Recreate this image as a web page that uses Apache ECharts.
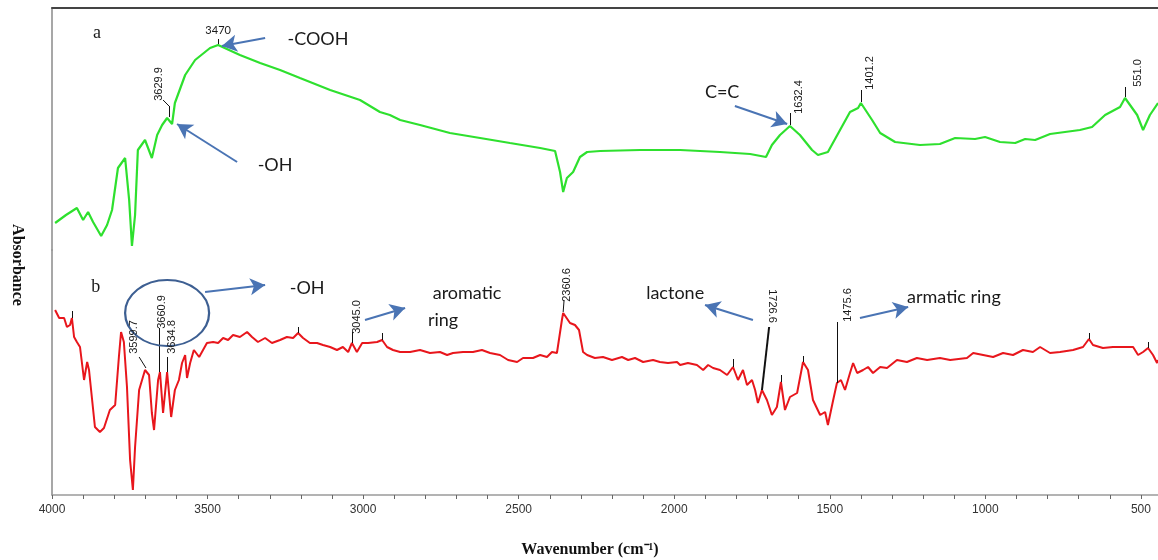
<!DOCTYPE html>
<html>
<head>
<meta charset="utf-8">
<script src="https://cdn.jsdelivr.net/npm/echarts@6/dist/echarts.min.js"></script>
<style>
  html, body { margin: 0; padding: 0; background: #fff; }
  #chart { width: 1158px; height: 560px; }
</style>
</head>
<body>
<div id="chart"></div>
<script>
// x tick labels (wavenumber, cm-1)
const tickLabels = [4000, 3500, 3000, 2500, 2000, 1500, 1000, 500]

// spectrum a (green) : [wavenumber, absorbance]
const spectrumA = [
  [3990, 0.27], [3955, 0.35], [3920, 0.42], [3900, 0.30], [3884, 0.38], [3868, 0.28],
  [3842, 0.14], [3823, 0.25], [3807, 0.40], [3788, 0.82], [3765, 0.92], [3752, 0.50],
  [3743, 0.04], [3733, 0.35], [3724, 1.00], [3701, 1.10], [3679, 0.92], [3662, 1.15],
  [3646, 1.25], [3630, 1.32], [3614, 1.26], [3605, 1.47], [3572, 1.75], [3540, 1.90],
  [3492, 2.02], [3466, 2.05], [3396, 1.95], [3331, 1.87], [3267, 1.80], [3203, 1.72],
  [3106, 1.60], [3010, 1.50], [2946, 1.38], [2914, 1.35], [2881, 1.30], [2817, 1.25],
  [2721, 1.17], [2624, 1.12], [2528, 1.07], [2431, 1.02], [2383, 0.99], [2367, 0.78],
  [2357, 0.58], [2345, 0.72], [2325, 0.78], [2303, 0.93], [2280, 0.98], [2238, 0.99],
  [2110, 1.00], [1981, 1.00], [1853, 0.98], [1756, 0.96], [1705, 0.93], [1686, 1.05],
  [1660, 1.15], [1628, 1.24], [1596, 1.15], [1557, 1.00], [1538, 0.95], [1506, 0.98],
  [1467, 1.20], [1435, 1.38], [1409, 1.42], [1400, 1.47], [1364, 1.30], [1338, 1.17],
  [1290, 1.08], [1210, 1.05], [1146, 1.06], [1097, 1.12], [1033, 1.11], [1001, 1.13],
  [953, 1.08], [904, 1.07], [872, 1.11], [840, 1.10], [792, 1.16], [696, 1.20],
  [657, 1.23], [615, 1.35], [567, 1.43], [551, 1.52], [512, 1.35], [493, 1.20],
  [471, 1.35], [445, 1.47]
]

// spectrum b (red) : [wavenumber, absorbance]
const spectrumB = [
  [3990, 1.85], [3977, 1.77], [3961, 1.77], [3952, 1.68], [3942, 1.70], [3936, 1.77],
  [3929, 1.58], [3920, 1.53], [3910, 1.48], [3897, 1.15], [3887, 1.33], [3881, 1.25],
  [3871, 0.95], [3862, 0.68], [3846, 0.63], [3833, 0.67], [3814, 0.85], [3797, 0.90],
  [3785, 1.38], [3778, 1.63], [3769, 1.53], [3759, 1.08], [3749, 0.35], [3740, 0.05],
  [3733, 0.48], [3720, 1.05], [3701, 1.25], [3688, 1.20], [3679, 0.82], [3672, 0.65],
  [3659, 1.15], [3653, 1.23], [3643, 0.82], [3630, 1.23], [3617, 0.78], [3605, 1.05],
  [3592, 1.15], [3582, 1.32], [3572, 1.40], [3566, 1.17], [3556, 1.32], [3544, 1.45],
  [3527, 1.38], [3502, 1.52], [3482, 1.53], [3466, 1.52], [3450, 1.57], [3434, 1.55],
  [3418, 1.60], [3396, 1.58], [3373, 1.63], [3357, 1.58], [3338, 1.53], [3315, 1.57],
  [3293, 1.52], [3267, 1.55], [3245, 1.58], [3225, 1.57], [3209, 1.62], [3193, 1.57],
  [3171, 1.52], [3148, 1.52], [3129, 1.50], [3106, 1.48], [3084, 1.45], [3065, 1.48],
  [3048, 1.43], [3036, 1.52], [3020, 1.43], [3003, 1.52], [2984, 1.52], [2955, 1.53],
  [2939, 1.55], [2923, 1.48], [2904, 1.45], [2881, 1.43], [2849, 1.43], [2817, 1.45],
  [2785, 1.42], [2753, 1.43], [2730, 1.40], [2711, 1.42], [2679, 1.43], [2647, 1.43],
  [2618, 1.45], [2592, 1.42], [2560, 1.40], [2534, 1.35], [2505, 1.33], [2486, 1.37],
  [2454, 1.37], [2431, 1.40], [2409, 1.38], [2393, 1.43], [2377, 1.42], [2361, 1.75],
  [2357, 1.82], [2335, 1.72], [2319, 1.70], [2306, 1.65], [2293, 1.43], [2280, 1.40],
  [2255, 1.37], [2229, 1.38], [2200, 1.35], [2168, 1.38], [2148, 1.35], [2126, 1.37],
  [2100, 1.33], [2068, 1.35], [2046, 1.33], [2020, 1.32], [1991, 1.33], [1981, 1.30],
  [1956, 1.32], [1927, 1.30], [1907, 1.25], [1891, 1.30], [1875, 1.27], [1853, 1.25],
  [1830, 1.20], [1811, 1.28], [1795, 1.15], [1779, 1.25], [1766, 1.10], [1750, 1.15],
  [1740, 1.05], [1731, 0.92], [1718, 1.05], [1702, 0.95], [1686, 0.80], [1670, 0.88],
  [1657, 1.13], [1644, 0.85], [1628, 0.98], [1605, 1.02], [1586, 1.33], [1570, 1.25],
  [1554, 0.95], [1531, 0.80], [1515, 0.83], [1506, 0.70], [1489, 0.95], [1477, 1.12],
  [1464, 1.15], [1451, 1.05], [1435, 1.22], [1425, 1.32], [1412, 1.22], [1393, 1.25],
  [1377, 1.28], [1361, 1.22], [1338, 1.28], [1316, 1.27], [1284, 1.35], [1252, 1.33],
  [1220, 1.37], [1187, 1.35], [1146, 1.37], [1113, 1.35], [1059, 1.37], [1039, 1.42],
  [1007, 1.40], [975, 1.38], [943, 1.42], [911, 1.40], [879, 1.45], [847, 1.43],
  [824, 1.48], [792, 1.42], [760, 1.43], [718, 1.45], [686, 1.48], [667, 1.56],
  [654, 1.50], [622, 1.47], [590, 1.48], [557, 1.48], [525, 1.48], [509, 1.40],
  [493, 1.43], [477, 1.47], [461, 1.40], [448, 1.32], [445, 1.35]
]

const minorTicks = []
for (let v = 500; v <= 4000; v += 100) minorTicks.push(v)

const ARROW = '#4a74b4'
const sansFont = 'Lato, "Liberation Sans", sans-serif'
const narrowFont = '"Liberation Sans Narrow", "Liberation Sans", sans-serif'

// helpers for annotations, all in data coordinates
function arrow (from, to) {
  const ls = { color: ARROW, width: 2, type: 'solid' }
  return [
    { coord: from, symbol: 'none', lineStyle: ls },
    { coord: to, symbol: 'arrow', symbolSize: [13, 15], lineStyle: ls }
  ]
}
function leader (from, to, w) {
  const ls = { color: '#111', width: w || 1, type: 'solid' }
  return [
    { coord: from, symbol: 'none', lineStyle: ls },
    { coord: to, symbol: 'none', lineStyle: ls }
  ]
}
function note (coord, text, size, extra) {
  return {
    coord: coord,
    symbol: 'circle',
    symbolSize: 1,
    itemStyle: { color: 'rgba(0,0,0,0)' },
    label: Object.assign({
      show: true,
      position: 'inside',
      formatter: text,
      color: '#1a1a1a',
      fontFamily: sansFont,
      fontSize: size
    }, extra || {})
  }
}
function peak (coord, text, rot) {
  return note(coord, text, 11, { fontFamily: narrowFont, rotate: rot === undefined ? 90 : rot })
}
function panel (coord, text) {
  return note(coord, text, 18, { fontFamily: '"Liberation Serif", serif' })
}

const option = {
  animation: false,
  grid: [
    { left: 52, right: 0, top: 8, height: 242, outerBoundsMode: 'none' },
    { left: 52, right: 0, top: 250, height: 245, outerBoundsMode: 'none' }
  ],
  xAxis: [
    {
      gridIndex: 0, type: 'value', min: 445, max: 4000, inverse: true, position: 'top',
      axisLine: { onZero: false, lineStyle: { color: '#444', width: 2 } },
      axisTick: { show: false }, axisLabel: { show: false }, splitLine: { show: false }
    },
    {
      gridIndex: 1, type: 'value', min: 445, max: 4000, inverse: true, position: 'bottom',
      axisLine: { onZero: false, lineStyle: { color: '#9a9a9a', width: 1.5 } },
      axisTick: { customValues: minorTicks, length: 4, lineStyle: { color: '#666' } },
      axisLabel: {
        customValues: tickLabels, color: '#333', fontFamily: narrowFont, fontSize: 12, margin: 9,
        formatter: function (v) { return String(v) }
      },
      splitLine: { show: false },
      name: 'Wavenumber (cm⁻¹)',
      nameLocation: 'middle',
      nameGap: 47,
      nameTextStyle: {
        fontFamily: '"Liberation Serif", serif', fontWeight: 'bold', fontSize: 16, color: '#111',
        padding: [0, 30, 0, 0]
      }
    }
  ],
  yAxis: [
    {
      gridIndex: 0, type: 'value', min: 0, max: 2.42,
      axisLine: { show: true, onZero: false, lineStyle: { color: '#8a8a8a', width: 1.5 } },
      axisTick: { show: false }, axisLabel: { show: false }, splitLine: { show: false }
    },
    {
      gridIndex: 1, type: 'value', min: 0, max: 2.45,
      axisLine: { show: true, onZero: false, lineStyle: { color: '#8a8a8a', width: 1.5 } },
      axisTick: { show: false }, axisLabel: { show: false }, splitLine: { show: false }
    }
  ],
  graphic: [
    {
      type: 'text', x: 17, y: 265, rotation: -Math.PI / 2,
      style: {
        text: 'Absorbance', textAlign: 'center', textVerticalAlign: 'middle',
        font: 'bold 16px "Liberation Serif", serif', fill: '#111'
      }
    }
  ],
  series: [
    {
      name: 'a', type: 'line', xAxisIndex: 0, yAxisIndex: 0,
      data: spectrumA, showSymbol: false, silent: true,
      lineStyle: { color: '#2ee02e', width: 2.2 },
      markLine: {
        silent: true, animation: false, label: { show: false },
        data: [
          arrow([3315, 2.12], [3454, 2.04]),
          arrow([3405, 0.88], [3598, 1.26]),
          arrow([1805, 1.44], [1637, 1.26]),
          leader([3466, 2.06], [3466, 2.11]),
          leader([3624, 1.33], [3624, 1.44]),
          leader([3624, 1.44], [3643, 1.50]),
          leader([1628, 1.25], [1628, 1.37]),
          leader([1400, 1.48], [1400, 1.60]),
          leader([551, 1.53], [551, 1.63])
        ]
      },
      markPoint: {
        silent: true, animation: false,
        data: [
          panel([3855, 2.17], 'a'),
          note([3466, 2.20], '3470', 11),
          note([3145, 2.11], '-COOH', 18),
          note([3283, 0.85], '-OH', 18),
          note([1846, 1.58], 'C=C', 18),
          peak([3656, 1.66], '3629.9'),
          peak([1599, 1.53], '1632.4'),
          peak([1371, 1.77], '1401.2'),
          peak([509, 1.77], '551.0')
        ]
      }
    },
    {
      name: 'b', type: 'line', xAxisIndex: 1, yAxisIndex: 1,
      data: spectrumB, showSymbol: false, silent: true,
      lineStyle: { color: '#e8161c', width: 2 },
      markLine: {
        silent: true, animation: false, label: { show: false },
        data: [
          arrow([3508, 2.03], [3315, 2.10]),
          arrow([2994, 1.75], [2865, 1.87]),
          arrow([1747, 1.75], [1901, 1.90]),
          arrow([1403, 1.77], [1248, 1.88]),
          leader([3698, 1.27], [3720, 1.38]),
          leader([3656, 1.23], [3656, 1.67]),
          leader([3630, 1.23], [3630, 1.38]),
          leader([3036, 1.52], [3036, 1.63]),
          leader([2357, 1.83], [2354, 1.95]),
          leader([1718, 1.05], [1695, 1.68], 2),
          leader([1477, 1.12], [1477, 1.73]),
          leader([3936, 1.77], [3936, 1.84]),
          leader([3209, 1.62], [3209, 1.68]),
          leader([2939, 1.55], [2939, 1.62]),
          leader([1811, 1.28], [1811, 1.36]),
          leader([1657, 1.13], [1657, 1.20]),
          leader([1586, 1.33], [1586, 1.39]),
          leader([667, 1.56], [667, 1.62]),
          leader([477, 1.47], [477, 1.53])
        ]
      },
      markPoint: {
        silent: true, animation: false,
        data: [
          {
            coord: [3630, 1.82], symbol: 'circle', symbolSize: [84, 66],
            itemStyle: { color: 'rgba(0,0,0,0)', borderColor: '#3d5f92', borderWidth: 2 },
            label: { show: false }
          },
          panel([3859, 2.08], 'b'),
          note([3180, 2.07], '-OH', 18),
          note([2666, 2.02], 'aromatic', 18),
          note([2743, 1.75], 'ring', 18),
          note([1997, 2.02], 'lactone', 18),
          note([1101, 1.98], 'armatic ring', 18),
          peak([3736, 1.58], '3599.7'),
          peak([3646, 1.83], '3660.9'),
          peak([3614, 1.58], '3634.8'),
          peak([3020, 1.78], '3045.0'),
          peak([2345, 2.10], '2360.6'),
          peak([1686, 1.89], '1726.6', -90),
          peak([1441, 1.90], '1475.6')
        ]
      }
    }
  ]
}

const chart = echarts.init(document.getElementById('chart'))
chart.setOption(option)
</script>
</body>
</html>
